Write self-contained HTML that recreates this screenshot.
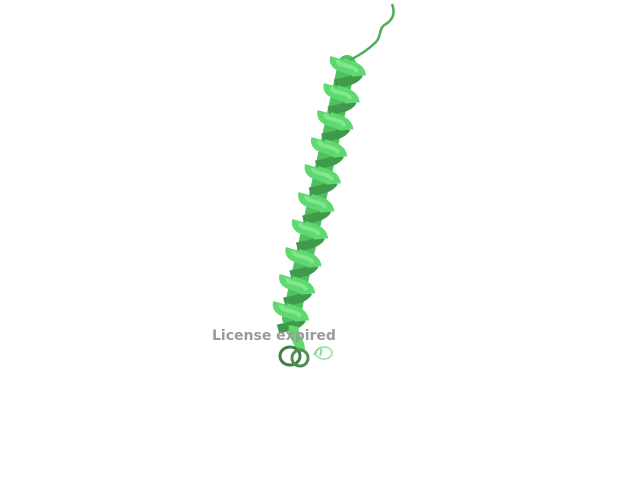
<!DOCTYPE html>
<html><head><meta charset="utf-8"><style>
html,body{margin:0;padding:0;background:#fff;width:640px;height:480px;overflow:hidden}
</style></head><body>
<svg width="640" height="480" viewBox="0 0 640 480">
<path d="M347 64 L291 318" stroke="#4fc060" stroke-width="18" stroke-linecap="round"/>
<g id="helix"></g>
<path d="M350 60 C360 55 368 50 376 42 C382 36 378 28 386 24 C392 20 396 14 392 4" fill="none" stroke="#4cae59" stroke-width="2.5"/>
<g fill="none">
<path d="M294 326 C292 336 300 340 300 350" stroke="#5fd870" stroke-width="10"/>
<ellipse cx="290" cy="356" rx="10" ry="9" stroke="#3f7f48" stroke-width="3"/>
<ellipse cx="300" cy="358" rx="8" ry="8" stroke="#4e8f57" stroke-width="3"/>
<ellipse cx="324" cy="353" rx="8" ry="6" stroke="#a8e8b0" stroke-width="2"/>
<path d="M314 355 C318 346 324 346 320 356" stroke="#8fd89a" stroke-width="2"/>
</g>
<text x="212" y="340" font-family="'DejaVu Sans','Liberation Sans',sans-serif" font-weight="bold" font-size="14" fill="#9a9a9a">License expired</text>
</svg>
<script>
const turnY=[66,93,120,147,174,202,229,257,284,311];
const g=document.getElementById('helix');
const ns='http://www.w3.org/2000/svg';
const x0=348,y0=66,x1=291,y1=311;
function axisX(y){return x0+(x1-x0)*(y-y0)/(y1-y0);}
turnY.forEach((y,i)=>{
  const cx=axisX(y);
  const back=document.createElementNS(ns,'path');
  back.setAttribute('d',`M${cx+11} ${y+8} C${cx+6} ${y+16} ${cx-6} ${y+16} ${cx-13} ${y+18}`);
  back.setAttribute('fill','none');back.setAttribute('stroke','#3f9a4b');back.setAttribute('stroke-width','9');
  
  
  g.appendChild(back);
});
turnY.forEach((y,i)=>{
  const cx=axisX(y);
  const fr=document.createElementNS(ns,'path');
  fr.setAttribute('d',`M${cx-11} ${y-8} C${cx-14} ${y+2} ${cx+10} ${y-2} ${cx+11} ${y+10}`);
  fr.setAttribute('fill','none');fr.setAttribute('stroke','#5fd870');fr.setAttribute('stroke-width','14');
  
  
  g.appendChild(fr);
  const hl=document.createElementNS(ns,'path');
  hl.setAttribute('d',`M${cx-10} ${y-6} C${cx-11} ${y+1} ${cx+7} ${y-2} ${cx+9} ${y+6}`);
  hl.setAttribute('fill','none');hl.setAttribute('stroke','#7fe88c');hl.setAttribute('stroke-width','4');
  
  
  g.appendChild(hl);
});
</script>
</body></html>
